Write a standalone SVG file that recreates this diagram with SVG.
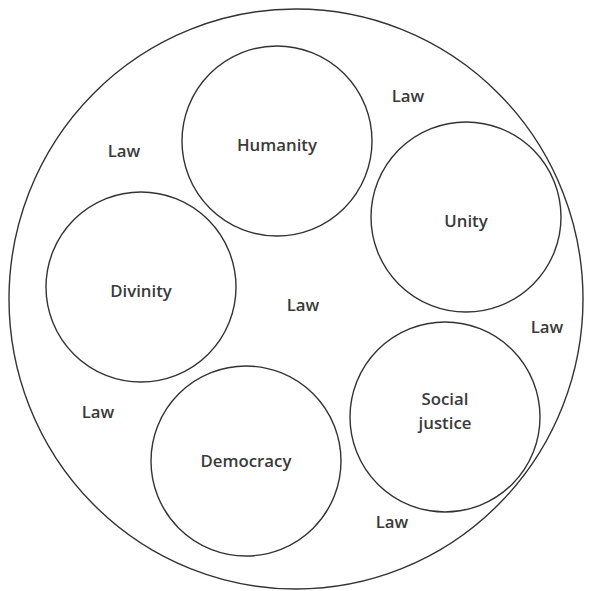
<svg xmlns="http://www.w3.org/2000/svg" width="590" height="591" viewBox="0 0 590 591">
  <style>
    .ring { fill: none; stroke: #333; stroke-width: 1.4; }
    .lbl { font-family: "Open Sans", "Liberation Sans", sans-serif; font-size: 16.8px; font-weight: 600; fill: #3a3a3a; text-anchor: middle; }
  </style>
  <rect width="590" height="591" fill="#fff"/>
  <g id="outer">
    <ellipse class="ring" cx="296" cy="299" rx="287" ry="290"/>
  </g>
  <g id="humanity">
    <circle class="ring" cx="277" cy="141" r="95"/>
    <text class="lbl" x="277" y="151">Humanity</text>
  </g>
  <g id="unity">
    <circle class="ring" cx="466" cy="217" r="95"/>
    <text class="lbl" x="466" y="227">Unity</text>
  </g>
  <g id="divinity">
    <circle class="ring" cx="141" cy="287" r="95"/>
    <text class="lbl" x="141" y="297">Divinity</text>
  </g>
  <g id="social-justice">
    <circle class="ring" cx="445" cy="417" r="95"/>
    <text class="lbl" x="445" y="405">Social</text>
    <text class="lbl" x="445" y="429">justice</text>
  </g>
  <g id="democracy">
    <circle class="ring" cx="246" cy="461" r="95"/>
    <text class="lbl" x="246" y="467">Democracy</text>
  </g>
  <g id="law-labels">
    <text class="lbl" x="408" y="102">Law</text>
    <text class="lbl" x="124" y="157">Law</text>
    <text class="lbl" x="303" y="311">Law</text>
    <text class="lbl" x="547" y="333">Law</text>
    <text class="lbl" x="98" y="418">Law</text>
    <text class="lbl" x="392" y="528">Law</text>
  </g>
  <g id="connectors"/>
</svg>
